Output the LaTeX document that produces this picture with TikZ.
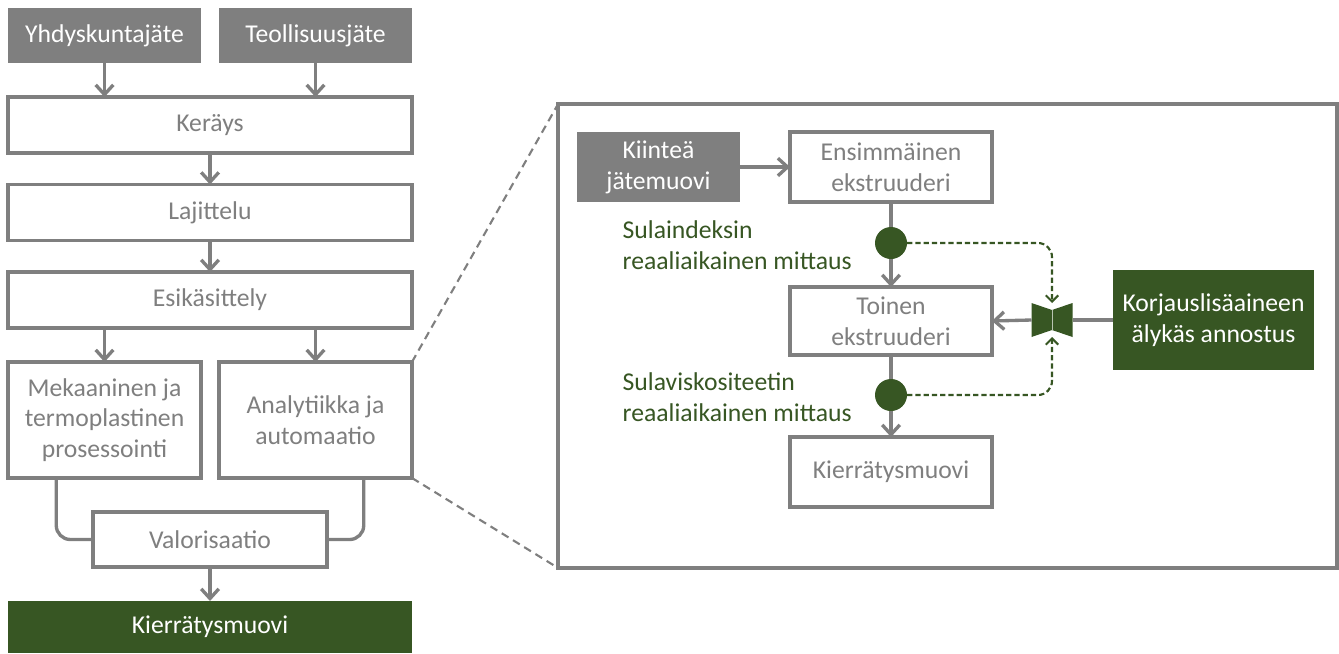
\documentclass[tikz,border=0pt]{standalone}
\usepackage{fontspec}
\setmainfont{Carlito}
\usetikzlibrary{arrows.meta,calc}
\definecolor{harmaa}{HTML}{7F7F7F}
\definecolor{vihrea}{HTML}{375623}

\begin{document}
\begin{tikzpicture}[x=0.02cm,y=-0.02cm,font=\fontsize{14.6}{17.5}\selectfont]
\tikzstyle{laatikko}=[rectangle, draw=harmaa, line width=1.9pt, fill=white, text=harmaa, inner sep=0pt, outer sep=0pt, align=center]
\tikzstyle{harmaalaatikko}=[rectangle, fill=harmaa, text=white, inner sep=0pt, outer sep=0pt, align=center]
\tikzstyle{vihrealaatikko}=[harmaalaatikko, fill=vihrea]
\tikzstyle{nuoli}=[draw=harmaa, line width=1.9pt, -{Straight Barb[length=5.5pt,width=10pt]}]
\tikzstyle{viiva}=[draw=harmaa, line width=1.9pt, rounded corners=8pt]
\tikzstyle{katko}=[draw=harmaa, line width=1.2pt, dash pattern=on 4.5pt off 3pt]
\tikzstyle{mittaus}=[circle, fill=vihrea, minimum size=0.64cm, inner sep=0pt, outer sep=0pt]
\tikzstyle{ohjaus}=[draw=vihrea, line width=1.2pt, dash pattern=on 3pt off 1.7pt, rounded corners=8pt, -{Straight Barb[length=3.5pt,width=7pt]}]
\tikzstyle{selite}=[text=vihrea, align=left, inner sep=0pt, anchor=east]
\useasboundingbox (0,0) rectangle (1339,653);
% prosessiketju
\node (yhd) [harmaalaatikko, minimum width=3.86cm, minimum height=1.1cm] at (104.5,35.5) {Yhdyskuntajäte};
\node (teo) [harmaalaatikko, minimum width=3.86cm, minimum height=1.1cm] at (315.5,35.5) {Teollisuusjäte};
\node (ker) [laatikko, minimum width=8.08cm, minimum height=1.12cm] at (210,125) {Keräys};
\node (laj) [laatikko, minimum width=8.08cm, minimum height=1.12cm] at (210,212.5) {Lajittelu};
\node (esi) [laatikko, minimum width=8.08cm, minimum height=1.12cm] at (210,300) {Esikäsittely};
\node (mek) [laatikko, minimum width=3.86cm, minimum height=2.32cm] at (104.5,420) {Mekaaninen ja\\termoplastinen\\prosessointi};
\node (ana) [laatikko, minimum width=3.86cm, minimum height=2.32cm] at (315.5,420) {Analytiikka ja\\automaatio};
\node (val) [laatikko, minimum width=4.68cm, minimum height=1.1cm] at (210,539.5) {Valorisaatio};
\node (kie) [vihrealaatikko, minimum width=8.08cm, minimum height=1.04cm] at (210,627) {Kierrätysmuovi};
\draw[nuoli] (yhd.south) -- (yhd.south |- ker.north);
\draw[nuoli] (teo.south) -- (teo.south |- ker.north);
\draw[nuoli] (ker) -- (laj);
\draw[nuoli] (laj) -- (esi);
\draw[nuoli] (mek.north |- esi.south) -- (mek.north);
\draw[nuoli] (ana.north |- esi.south) -- (ana.north);
\draw[viiva] ($(mek.south west)!0.25!(mek.south east)$) |- (val.west);
\draw[viiva] ($(ana.south west)!0.75!(ana.south east)$) |- (val.east);
\draw[nuoli] (val) -- (kie);
% suurennos
\node (kehys) [laatikko, minimum width=15.58cm, minimum height=9.28cm] at (947.5,336) {};
\draw[katko] (ana.north east) -- (kehys.north west);
\draw[katko] (ana.south east) -- (kehys.south west);
\node (kii) [harmaalaatikko, minimum width=3.26cm, minimum height=1.4cm] at (658.5,167) {Kiinteä\\jätemuovi};
\node (ens) [laatikko, minimum width=4.04cm, minimum height=1.4cm] at (891,167) {Ensimmäinen\\ekstruuderi};
\node (toi) [laatikko, minimum width=4.04cm, minimum height=1.36cm] at (891,321) {Toinen\\ekstruuderi};
\node (kmu) [laatikko, minimum width=4.04cm, minimum height=1.4cm] at (891,472) {Kierrätysmuovi};
\node (kor) [vihrealaatikko, minimum width=4.02cm, minimum height=2cm] at (1213.5,320) {Korjauslisäaineen\\älykäs annostus};
\node (m1) [mittaus] at (891,243) {};
\node (m2) [mittaus] at (891,395) {};
\node (sel1) [selite] at (852,245) {Sulaindeksin\\reaaliaikainen mittaus};
\node (sel2) [selite] at (852,397) {Sulaviskositeetin\\reaaliaikainen mittaus};
\node (venttiili) [rectangle, minimum width=0.82cm, minimum height=0.68cm, inner sep=0pt, outer sep=0pt] at (1052,320) {};
\fill[vihrea] (venttiili.north west) -- ($(venttiili.north)+(0,7)$) -- (venttiili.north east)
  -- (venttiili.south east) -- ($(venttiili.south)+(0,-7)$) -- (venttiili.south west) -- cycle;
\draw[white!65!vihrea, line width=0.4pt] ($(venttiili.north)+(0,7)$) -- ($(venttiili.south)+(0,-7)$);
\draw[nuoli] (kii) -- (ens);
\draw[viiva] (ens.south) -- (m1.north);
\draw[nuoli] (m1.south) -- (toi.north);
\draw[viiva] (toi.south) -- (m2.north);
\draw[nuoli] (m2.south) -- (kmu.north);
\draw[viiva] (kor.west) -- (venttiili.east);
\draw[nuoli] (venttiili.west) -- (toi.east);
\draw[ohjaus] (m1.east) -| (venttiili.north);
\draw[ohjaus] (m2.east) -| (venttiili.south);
\end{tikzpicture}
\end{document}
